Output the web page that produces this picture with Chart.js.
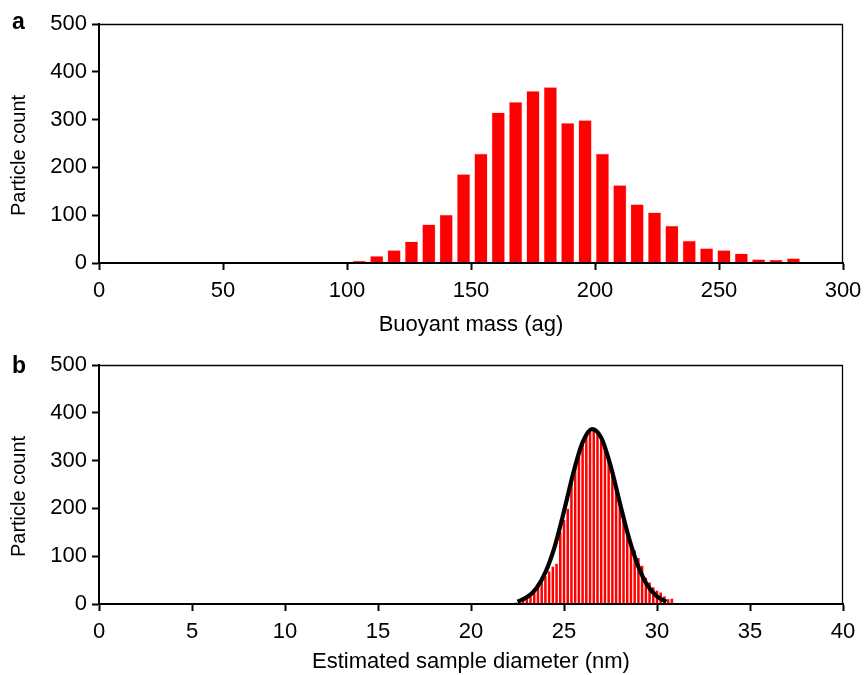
<!DOCTYPE html>
<html>
<head>
<meta charset="utf-8">
<title>Particle count</title>
<script src="https://cdn.jsdelivr.net/npm/chart.js@4.4.1/dist/chart.umd.min.js"></script>
<style>
  body { margin: 0; background: #fff; }
  canvas { position: absolute; left: 0; }
  #massChart { top: 0; }
  #diameterChart { top: 341px; }
</style>
</head>
<body>
<canvas id="massChart" width="864" height="340"></canvas>
<canvas id="diameterChart" width="864" height="334"></canvas>
<script>
// Datos
const massBins = [105, 112, 119, 126, 133, 140, 147, 154, 161, 168, 175, 182, 189,
  196, 203, 210, 217, 224, 231, 238, 245, 252, 259, 266, 273, 280];
const massCounts = [5, 15, 27, 45, 81, 101, 186, 229, 315, 337, 360, 368, 293,
  299, 229, 163, 123, 106, 78, 47, 31, 27, 20, 8, 7, 10];

const diameterBins = [22.4, 22.6, 22.8, 23.0, 23.2, 23.4, 23.6, 23.8, 24.0, 24.2, 24.4,
  24.6, 24.8, 25.0, 25.2, 25.4, 25.6, 25.8, 26.0, 26.2, 26.4, 26.6, 26.8, 27.0, 27.2,
  27.4, 27.6, 27.8, 28.0, 28.2, 28.4, 28.6, 28.8, 29.0, 29.2, 29.4, 29.6, 29.8, 30.0,
  30.2, 30.4, 30.6, 30.8];
const diameterCounts = [3, 5, 7, 12, 18, 33, 36, 45, 58, 68, 78,
  84, 150, 176, 199, 262, 292, 318, 338, 352, 360, 362, 356, 345, 326,
  302, 272, 242, 212, 180, 152, 126, 112, 96, 80, 55, 45, 35, 28,
  24, 16, 10, 11];

// Curva de ajuste (leída punto a punto)
const fitDiameters = [22.5, 23, 23.5, 24, 24.5, 25, 25.5, 26, 26.5, 27, 27.5, 28,
  28.5, 29, 29.5, 30, 30.5];
const fitCounts = [5, 14, 32, 66, 120, 194, 274, 338, 366, 348, 290, 212,
  137, 78, 38, 16, 5];

// Marcas de los ejes
const countTicks = [0, 100, 200, 300, 400, 500];
const massTicks = [0, 50, 100, 150, 200, 250, 300];
const diameterTicks = [0, 5, 10, 15, 20, 25, 30, 35, 40];
const countTitle = 'Particle count';

const FONT = '"Liberation Sans", Arial, Helvetica, sans-serif';
Chart.defaults.font.family = FONT;
Chart.defaults.font.size = 22;
Chart.defaults.color = '#000';

// Marco fino arriba y a la derecha, título del eje Y y letra del panel
const framePlugin = {
  id: 'frame',
  afterDraw(chart, args, opts) {
    const ctx = chart.ctx;
    const a = chart.chartArea;
    ctx.save();
    ctx.strokeStyle = '#000';
    ctx.lineWidth = 1.3;
    ctx.beginPath();
    ctx.moveTo(a.left, a.top + 0.5);
    ctx.lineTo(a.right - 0.5, a.top + 0.5);
    ctx.lineTo(a.right - 0.5, a.bottom);
    ctx.stroke();

    ctx.fillStyle = '#000';
    ctx.font = 'bold 23px ' + FONT;
    ctx.textBaseline = 'alphabetic';
    ctx.fillText(opts.label, 12, opts.labelY);

    // título vertical, algo por debajo del centro como en el original
    ctx.font = '20px ' + FONT;
    ctx.translate(25, a.top + (a.bottom - a.top) / 2 + 12);
    ctx.rotate(-Math.PI / 2);
    ctx.textAlign = 'center';
    ctx.fillText(countTitle, 0, 0);
    ctx.restore();
  }
};

function axisTicks(values) {
  return function(scale) {
    scale.ticks = values.map(v => ({ value: v }));
  };
}

// Tamaño fijo de los ejes para que el área del gráfico no se mueva
function fixSize(prop, size) {
  return function(scale) {
    scale[prop] = size;
    scale.paddingLeft = 0;
    scale.paddingRight = 0;
    scale.paddingTop = 0;
    scale.paddingBottom = 0;
  };
}

function buildOptions(xTicks, xTitle, xHeight, titlePad, label, labelY) {
  const min = xTicks[0];
  const max = xTicks[xTicks.length - 1];
  return {
    responsive: false,
    animation: false,
    layout: {
      padding: { left: 0, right: 21, top: 24, bottom: 0 }
    },
    scales: {
      x: {
        type: 'linear',
        min: min,
        max: max,
        offset: false,
        afterBuildTicks: axisTicks(xTicks),
        afterFit: fixSize('height', xHeight),
        grid: {
          offset: false,
          drawOnChartArea: false,
          tickLength: 7,
          tickWidth: 2,
          tickColor: '#000'
        },
        border: { color: '#000', width: 2, z: 1 },
        ticks: { padding: 8, maxRotation: 0 },
        title: {
          display: true,
          text: xTitle,
          padding: { top: 0, bottom: titlePad }
        }
      },
      y: {
        min: 0,
        max: 500,
        afterBuildTicks: axisTicks(countTicks),
        afterFit: fixSize('width', 99),
        grid: {
          drawOnChartArea: false,
          tickLength: 7,
          tickWidth: 2,
          tickColor: '#000'
        },
        border: { color: '#000', width: 2, z: 1 },
        ticks: { padding: 5 }
      }
    },
    plugins: {
      legend: { display: false },
      tooltip: { enabled: false },
      frame: { label: label, labelY: labelY }
    }
  };
}

// Panel a: masa flotante
const massCtx = document.getElementById('massChart').getContext('2d');
new Chart(massCtx, {
  type: 'bar',
  data: {
    datasets: [{
      data: massBins.map((m, i) => ({ x: m, y: massCounts[i] })),
      backgroundColor: '#ff0000',
      borderColor: 'rgba(255, 190, 190, 1)',
      borderWidth: 0.6,
      barPercentage: 0.77,
      categoryPercentage: 1
    }]
  },
  options: buildOptions(massTicks, 'Buoyant mass (ag)', 77, 2, 'a', 28.5),
  plugins: [framePlugin]
});

// Panel b: diámetro estimado + ajuste
const diameterCtx = document.getElementById('diameterChart').getContext('2d');
new Chart(diameterCtx, {
  type: 'bar',
  data: {
    datasets: [{
      type: 'line',
      data: fitDiameters.map((d, i) => ({ x: d, y: fitCounts[i] })),
      borderColor: '#000',
      borderWidth: 4.2,
      pointRadius: 0,
      cubicInterpolationMode: 'monotone',
      fill: false,
      order: 0
    }, {
      data: diameterBins.map((d, i) => ({ x: d, y: diameterCounts[i] })),
      backgroundColor: '#ff0000',
      borderWidth: 0,
      barPercentage: 0.68,
      categoryPercentage: 1,
      order: 1
    }]
  },
  options: buildOptions(diameterTicks, 'Estimated sample diameter (nm)', 71, 0, 'b', 31.7),
  plugins: [framePlugin]
});
</script>
</body>
</html>
